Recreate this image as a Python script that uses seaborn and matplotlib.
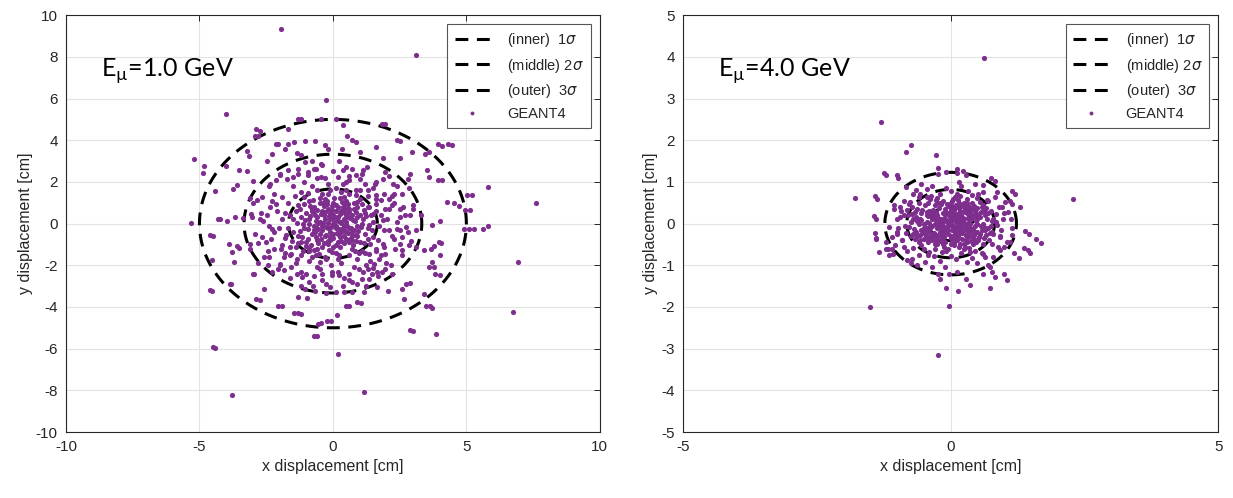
import numpy as np
import pandas as pd
import matplotlib
matplotlib.use('Agg')
import matplotlib.pyplot as plt
import seaborn as sns
from matplotlib.lines import Line2D

# =========== DATA ====================================
# sigma radii of the dashed ellipses, per energy [cm]
sigma_1gev = [1.665, 3.33, 5.0]
sigma_4gev = [0.41, 0.82, 1.23]
ring_labels = ['(inner)  1$\\sigma$', '(middle) 2$\\sigma$', '(outer)  3$\\sigma$']

# GEANT4 hits, 1.0 GeV (x, y) [cm]
pts_1gev = [
    # outliers / outer ring
    (-1.94, 9.36), (3.13, 8.09), (-0.27, 5.94), (-3.99, 5.25), (-5.19, 3.12), (-4.84, 2.75), (-4.85, 2.42),
    (-5.30, 0.03), (-4.22, 0.21), (-4.40, 1.56), (-4.49, -0.59), (-4.54, -1.77), (-4.54, -3.22), (-4.40, -5.97),
    (-3.79, -8.20), (1.16, -8.09), (0.19, -6.26), (-0.60, -5.37), (3.01, -5.13), (3.85, -5.30), (6.76, -4.22),
    (6.94, -1.83), (7.61, 0.99), (5.81, 1.75), (5.22, 1.35), (5.09, -0.24), (5.12, 0.64), (5.64, -0.24),
    (5.81, -0.13), (4.55, 0.99), (4.46, 3.77), (4.07, 3.74), (3.61, 3.42), (4.10, 2.07), (4.00, 0.11),
    (4.06, -0.91), (4.00, -1.51), (3.78, -2.07), (4.03, -2.47), (3.63, -3.95), (2.88, -2.87), (1.94, 4.78),
    (2.51, 3.98), (-1.18, 5.02), (-2.75, 4.46), (-2.81, 4.22), (-1.90, -3.95), (-1.31, -4.30), (-1.19, -4.33),
    (-0.07, -4.67), (-0.45, -4.78), (0.15, -4.38), (0.61, -3.95), (1.04, -3.82), (3.72, -4.06), (-2.72, -3.66),
    (-3.81, -2.90), (-2.94, -2.44), (-3.51, -1.16), (-3.69, -1.83), (-3.91, -0.96),
    # upper left
    (-1.32, 5.01), (-0.46, 5.01), (-1.67, 4.52), (-2.87, 4.52), (-2.9, 4.2), (-4.0, 2.77), (-3.2, 3.48),
    (-3.15, 3.25), (-3.52, 2.57), (-3.22, 2.5), (-3.75, 1.64), (-3.6, 1.85), (-2.98, 2.04), (-2.47, 3.01),
    (-2.3, 3.35), (-2.14, 3.8), (-2.05, 3.84), (-1.8, 3.6), (-1.67, 3.8), (-1.45, 3.9), (-1.36, 3.38),
    (-1.03, 3.98), (-0.67, 3.96), (-1.04, 2.97), (-0.77, 3.0), (-1.19, 3.27), (-0.46, 2.86), (-0.3, 3.75),
    (-0.2, 3.6), (-4.3, 0.22), (-3.95, 0.12), (-3.68, 0.33), (-3.36, 0.25), (-3.05, 0.48), (-2.73, 0.21),
    (-2.48, 0.4), (-3.12, 1.25), (-2.86, 1.12), (-2.67, 1.28), (-2.37, 0.8), (-2.12, 0.96), (-2.37, 1.92),
    (-2.12, 2.08), (-2.0, 2.32), (-1.69, 2.56), (-1.5, 2.24), (-1.3, 2.64), (-0.93, 2.48), (-0.62, 2.64),
    (-0.43, 2.24),
    # upper right
    (1.85, 4.8), (2.41, 4.0), (3.93, 3.8), (4.33, 3.81), (0.38, 4.72), (0.1, 5.0), (0.53, 4.2), (0.7, 4.0),
    (0.88, 3.9), (1.6, 3.68), (2.97, 3.44), (3.45, 3.36), (1.02, 3.43), (0.33, 3.6), (1.88, 3.13),
    (2.53, 3.17), (3.53, 2.57), (3.6, 2.24), (3.95, 2.08), (2.8, 2.16), (2.89, 2.4), (2.84, 1.73),
    (2.25, 1.89), (1.87, 2.16), (1.94, 2.48), (1.56, 1.92), (1.3, 1.6), (1.6, 1.37), (2.1, 1.2), (2.3, 1.43),
    (2.6, 1.43), (3.0, 0.72), (3.3, 0.4), (2.9, 0.4), (2.5, 0.72), (1.95, 0.72), (2.2, 0.88), (4.72, 0.84),
    (4.94, 0.64), (5.03, 1.36), (4.28, 1.04), (2.5, 0.32), (1.87, 0.16), (1.5, 0.48), (0.87, 1.6),
    (0.62, 2.08), (0.37, 2.56), (0.87, 2.32), (1.12, 2.56), (1.28, 2.72), (1.8, 1.12), (1.37, 0.8),
    # lower left
    (-4.59, -0.57), (-4.62, -3.2), (-4.49, -5.9), (-3.78, -1.37), (-3.58, -1.08), (-3.87, -2.89),
    (-2.87, -3.64), (-2.6, -3.13), (-2.99, -2.44), (-3.11, -0.97), (-2.8, -1.9), (-2.06, -3.96),
    (-1.44, -4.28), (-0.56, -4.8), (-0.69, -5.4), (-0.22, -4.66), (-2.65, -0.65), (-2.33, -0.73),
    (-2.4, -1.61), (-2.42, -1.97), (-2.06, -2.17), (-1.98, -1.93), (-1.83, -1.61), (-1.58, -1.45),
    (-1.33, -1.69), (-1.58, -2.09), (-1.36, -2.41), (-1.15, -2.57), (-1.21, -2.97), (-1.03, -3.13),
    (-1.31, -3.53), (-0.96, -3.57), (-0.73, -2.97), (-0.68, -3.21), (-0.27, -2.92), (-0.27, -3.33),
    (-0.58, -2.09), (-0.39, -2.41), (-0.08, -2.01), (-0.02, -2.49), (-1.96, -1.21), (-2.21, -1.21),
    (-0.9, -1.21), (-1.21, -0.89), (-2.27, -0.25), (-1.77, -0.57), (-0.51, -1.45), (-0.26, -1.69),
    # lower right
    (2.87, -5.12), (4.9, -0.25), (5.28, -0.25), (3.97, -0.89), (3.78, -1.08), (3.66, -1.24), (3.41, -1.29),
    (3.72, -1.85), (3.6, -2.09), (3.84, -2.41), (3.41, -3.37), (3.47, -3.93), (2.72, -2.89), (2.6, -3.13),
    (2.66, -3.61), (2.08, -3.24), (1.64, -3.05), (1.23, -2.97), (1.17, -3.29), (0.92, -3.77), (0.48, -3.93),
    (0.73, -3.29), (0.42, -3.29), (0.11, -3.29), (2.85, -1.05), (2.6, -1.29), (2.16, -2.01), (1.97, -2.17),
    (1.85, -2.33), (1.48, -2.41), (1.35, -2.65), (1.66, -2.33), (1.1, -2.65), (0.73, -2.81), (0.36, -2.97),
    (2.29, -0.73), (2.6, -0.65), (2.1, -0.33), (2.41, -0.25), (2.72, -0.17), (3.1, -0.33), (3.72, -0.09),
    (1.97, -1.45), (1.72, -1.69), (1.54, -1.93), (1.23, -2.01), (0.98, -2.17), (0.61, -2.41), (0.23, -2.49),
    (1.91, -1.13), (1.6, -1.21), (1.35, -1.45),
    # core
    (-0.1, 0.2), (0.3, 0.5), (-0.5, 0.1), (0.6, -0.2), (-0.3, -0.6), (0.2, -0.9), (0.9, 0.3), (-0.8, 0.6),
    (-1.1, -0.2), (1.2, -0.5), (0.0, 1.0), (0.4, 1.3), (-0.4, 1.4), (0.8, 1.0), (-0.9, 1.1), (1.3, 0.8),
    (-1.3, 0.9), (1.5, 0.1), (-1.5, -0.4), (0.1, -1.4), (-0.6, -1.2), (0.7, -1.2), (1.0, -0.9), (-1.0, -0.9),
    (-0.2, -0.2), (0.5, 0.1), (-0.7, -0.3), (0.2, 0.8), (-0.4, 0.6), (0.3, -0.4), (1.1, 0.0), (-1.2, 0.3),
    (0.0, -0.7), (0.6, 0.7), (-0.6, -0.8), (1.4, -1.0), (-1.4, -1.1), (0.9, -0.6), (-0.9, 0.0), (0.1, 1.7),
    (-0.2, 1.9), (0.5, 2.0), (-0.8, 1.8), (1.0, 1.6), (-1.2, 1.5), (1.6, 1.2), (-1.7, 1.0), (1.8, 0.4),
    (-1.9, 0.2), (1.9, -0.3), (-1.8, -0.7), (1.6, -1.3), (-1.6, -1.5), (0.9, -1.7), (-0.9, -1.8), (0.3, -1.9),
    (-0.3, -1.6), (0.0, 0.0), (0.4, -0.1), (-0.1, 0.5), (0.2, 0.3), (-0.4, -0.3), (0.7, 0.4), (-0.6, 0.3),
    (0.4, -0.6), (-0.2, -1.0), (0.8, -0.3), (-0.8, -0.5), (0.5, 1.1), (-0.5, 1.0), (1.2, 0.5), (-1.0, 0.5),
    (1.3, -0.2), (-1.3, -0.6), (0.2, -0.5), (-0.1, -0.4), (0.6, -0.9), (-0.4, -1.1), (0.1, 0.9), (-0.7, 0.8),
    (2.1, 0.7), (-2.1, 0.6), (2.2, -0.6), (-2.2, -0.4), (1.5, 1.7), (-1.5, 1.8), (1.4, -1.8), (-1.4, -1.9),
    (0.6, 2.3), (-0.6, 2.2), (0.2, -2.3), (-0.5, -2.2), (0.8, -2.1), (2.4, 0.1), (-2.4, -0.1), (1.9, 1.4),
    (-1.9, 1.3), (1.8, -1.5), (-1.8, -1.4), (0.0, 2.5), (-0.1, -0.8), (0.3, 0.1), (-0.3, 0.2), (0.1, -0.2),
    (0.5, 0.4), (-0.5, -0.5), (0.7, -0.6), (-0.2, 0.7), (0.9, 0.8), (-0.9, -1.3), (1.0, 1.2), (-1.1, 1.3),
    (1.1, -1.3), (0.4, 0.7), (-0.7, -0.1), (0.0, -1.1), (1.6, 0.6), (-1.6, 0.4), (1.7, -0.8), (-1.7, -0.2),
    (0.3, 1.5), (-0.3, 1.2), (0.6, -1.5), (-0.8, -1.6), (1.2, 1.9), (-1.1, 2.0), (1.3, -2.2), (-1.2, -2.3),
    (2.3, 1.0), (-2.3, 1.1), (2.5, -1.0), (-2.5, -0.9), (2.0, -1.9), (-2.0, -2.0), (0.4, -2.6), (-0.4, -2.7),
    (2.7, 0.4), (-2.7, 0.5), (0.5, 2.7), (-0.7, 2.6), (0.15, 0.25), (-0.25, -0.15), (0.35, -0.25),
    (-0.45, 0.45), (0.55, -0.45), (-0.05, 0.65), (0.75, 0.15), (-0.65, -0.65), (0.25, -0.65), (-0.35, 0.85),
    (1.05, -0.15), (-1.05, 0.15), (0.85, 0.55), (-0.85, 0.35), (0.45, 0.95), (-0.15, -1.25), (1.25, 0.35),
    (-1.25, -0.35), (0.65, -0.75), (-0.55, -0.95), (2.6, -1.5), (-2.6, -1.6), (2.8, -0.4), (-2.9, -0.5),
    (1.1, 2.4), (-1.3, 2.4), (2.4, 1.8), (-2.4, 1.8), (1.7, -2.5), (-1.6, -2.6), (3.0, 0.9), (-3.0, 1.0),
    (0.9, -2.9), (-0.9, -2.8), (2.1, 2.3), (-2.0, 2.4), (2.2, -2.4), (-2.3, -2.3), (3.1, -1.1), (-3.1, -1.2),
    (0.05, 0.1), (-0.15, 0.35), (0.3, 0.6), (-0.55, 0.05), (0.45, -0.35), (-0.25, -0.55), (0.15, -0.45),
    (0.65, 0.25), (-0.75, 0.55), (0.95, -0.35), (-0.95, -0.25), (0.35, 1.05), (-0.35, -0.95), (0.55, 0.75),
    (-0.45, -0.75), (0.85, -0.85), (-0.85, 0.85), (1.15, 0.65), (-1.15, -0.65), (0.05, 1.25), (-0.05, -1.35),
    (1.35, -0.05), (-1.35, 0.05), (0.75, -1.05), (-0.75, 1.15), (0.25, 0.45), (-0.6, 0.65), (0.6, 0.55),
    (-0.2, 0.05), (0.1, -0.1),
    (0.12, 0.62), (-0.32, 0.42), (0.48, -0.72), (-0.68, -0.42), (0.82, 0.12), (-0.88, 0.22), (0.28, -1.12),
    (-0.22, 1.08), (1.08, 0.92), (-1.02, -1.08), (1.42, 0.42), (-1.38, 0.62), (0.62, 1.42), (-0.58, 1.62),
    (1.22, -1.42), (-1.18, -1.52), (1.72, -0.12), (-1.78, 0.52), (0.18, -1.68), (-0.48, -1.82), (2.02, 0.22),
    (-2.02, -0.22), (0.38, 1.88), (-0.28, 2.18), (1.88, -0.98), (-1.92, -1.02), (1.32, 1.32), (-1.42, 1.32),
    (0.98, -1.42), (-1.12, -1.32), (0.02, 0.42), (0.42, 0.22), (-0.42, -0.12), (0.22, -0.28), (-0.12, -0.62),
    (0.72, -0.42), (-0.62, 0.12), (0.58, 0.92), (-0.38, 0.98), (0.92, -0.12), (-0.92, -0.72), (1.02, 0.42),
    (-1.22, 0.72), (0.32, -0.82), (-0.82, -1.02), (0.78, 0.72), (-0.18, 1.42), (0.12, -1.02), (1.52, -0.62),
    (-1.52, -0.82), (2.22, 1.32), (-2.22, 1.42), (2.32, -1.22), (-2.42, -1.32), (1.02, 2.12), (-0.92, 2.32),
    (1.12, -2.32), (-1.02, -2.42), (0.18, 2.22), (-0.02, -2.32), (2.62, 0.82), (-2.62, 0.12), (2.52, -0.32),
    (-2.82, -0.92), (0.72, 2.62), (-0.42, 2.82), (0.62, -2.72), (-0.72, -2.52), (1.62, 2.02), (-1.72, 2.12),
    (1.52, -2.12), (-1.82, -2.22), (2.92, -0.82), (-3.02, 0.32), (0.22, 3.02), (-0.12, -3.02), (-0.05, 0.85),
    (0.45, 0.55), (-0.55, -0.25), (0.85, -0.55),
    (0.08, 0.32), (-0.28, 0.58), (0.52, -0.12), (-0.62, -0.18), (0.38, 0.82), (-0.18, -0.82), (0.72, -0.78),
    (-0.78, 0.72), (1.12, 0.22), (-1.12, -0.02), (0.28, 1.22), (-0.48, 1.22), (0.92, 1.02), (-0.72, -1.28),
    (1.32, -0.72), (-1.32, -0.92), (0.02, -0.52), (0.58, 0.32), (-0.38, 0.02), (0.18, 0.12), (-0.08, -0.18),
    (0.68, -0.22), (-0.68, 0.42), (0.42, -0.92), (-0.22, 0.92), (1.18, -0.92), (-1.08, 0.92), (0.88, 1.38),
    (-0.92, 1.48), (1.48, -0.32), (-1.48, 0.22), (0.22, -1.52), (-0.62, -1.52), (1.62, 0.92), (-1.62, -1.12),
    (0.48, 1.62), (-0.12, 1.62), (0.82, -1.32), (0.32, 0.02), (-0.02, 0.28),
]

# GEANT4 hits, 4.0 GeV (x, y) [cm]
pts_4gev = [
    # outliers
    (0.62, 3.98), (-1.30, 2.43), (-0.75, 1.89), (-0.84, 1.71), (-0.27, 1.65), (-1.24, 1.22), (-1.0, 1.16),
    (-1.78, 0.61), (-1.42, 0.67), (2.29, 0.60), (1.60, -0.36), (1.39, -0.18), (1.37, -0.58), (1.19, -0.71),
    (0.99, -1.22), (0.78, -1.16), (0.73, -1.55), (0.29, -1.34), (0.14, -1.61), (-0.09, -1.55), (-0.23, -1.22),
    (-0.04, -1.97), (-1.50, -2.0), (-0.24, -3.15), (-1.40, -0.37), (-1.44, 0.19), (-1.41, -0.23),
    (-1.21, -0.62), (-1.17, -0.60), (1.15, 0.48), (1.15, 0.78), (0.76, 1.09), (0.12, 1.30), (0.24, 1.26),
    (-0.24, 1.33),
    # left half ring
    (-1.21, 1.17), (-0.98, 1.10), (-1.38, 0.6), (-1.39, 0.1), (-1.39, -0.34), (-1.34, -0.69), (-1.01, 0.12),
    (-1.16, -0.08), (-1.05, 0.44), (-0.94, 0.4), (-0.83, 0.88), (-0.7, 0.72), (-0.6, 0.64), (-0.76, 0.52),
    (-0.82, 0.32), (-0.88, 0.2), (-1.0, -0.2), (-0.91, -0.4), (-0.88, -0.56), (-1.07, -0.72), (-1.15, -0.76),
    (-1.2, -0.44), (-1.1, -0.32), (-1.04, -0.52), (-0.82, -0.88), (-0.73, -0.84), (-0.63, -1.0),
    (-0.48, -0.92), (-0.42, -0.76), (-0.35, -1.04), (-0.2, -1.32), (-0.04, -1.2), (-0.23, 1.2), (-0.08, 1.24),
    # right half ring
    (1.69, -0.46), (0.12, 1.22), (0.29, 1.16), (0.83, 1.03), (1.21, 0.72), (1.3, 0.4), (1.13, 0.12),
    (1.47, -0.25), (1.44, -0.64), (1.49, -0.7), (1.27, -0.82), (1.05, -1.35), (0.83, -1.29), (0.36, -1.47),
    (0.12, -1.15), (0.61, -1.2), (0.74, -1.04), (0.99, -0.56), (1.1, -0.44), (0.93, -0.32), (1.14, -0.28),
    (1.08, 0.28), (1.02, 0.52), (0.96, 0.4), (0.86, 0.76), (0.61, 0.92), (0.52, 0.72), (0.68, 0.56),
    (0.8, 0.12), (0.86, -0.04), (0.77, -0.2), (0.8, -0.8), (0.61, -0.72), (0.93, -0.64),
    # core
    (0.0, 0.0), (0.1, 0.05), (-0.1, 0.1), (0.05, -0.1), (-0.05, -0.05), (0.15, 0.15), (-0.15, -0.15),
    (0.2, -0.05), (-0.2, 0.05), (0.1, -0.2), (-0.1, 0.2), (0.25, 0.1), (-0.25, -0.1), (0.05, 0.25),
    (-0.05, -0.25), (0.3, -0.15), (-0.3, 0.15), (0.18, 0.3), (-0.18, -0.3), (0.35, 0.05), (-0.35, -0.05),
    (0.0, 0.35), (0.0, -0.35), (0.28, -0.28), (-0.28, 0.28), (0.4, 0.2), (-0.4, -0.2), (0.22, -0.38),
    (-0.22, 0.38), (0.45, -0.05), (-0.45, 0.05), (0.1, 0.45), (-0.1, -0.45), (0.38, 0.32), (-0.38, -0.32),
    (0.5, 0.1), (-0.5, -0.1), (0.3, -0.45), (-0.3, 0.45), (0.55, -0.25), (-0.55, 0.25), (0.15, -0.55),
    (-0.15, 0.55), (0.5, 0.38), (-0.5, -0.38), (0.6, 0.0), (-0.6, 0.0), (0.42, -0.5), (-0.42, 0.5),
    (0.65, 0.2), (-0.65, -0.2), (0.05, 0.6), (-0.05, -0.6), (0.62, -0.35), (-0.62, 0.35), (0.3, 0.6),
    (-0.3, -0.6), (0.7, -0.1), (-0.7, 0.1), (0.55, 0.52), (-0.55, -0.52), (0.2, -0.7), (-0.2, 0.7),
    (0.75, 0.3), (-0.75, -0.3), (0.45, -0.65), (-0.45, 0.65), (0.8, -0.25), (-0.8, 0.2), (0.12, 0.72),
    (0.08, 0.12), (-0.12, -0.08), (0.18, -0.12), (-0.18, 0.12), (0.12, 0.22), (-0.08, -0.18), (0.25, 0.02),
    (-0.25, 0.2), (0.32, 0.22), (-0.12, -0.32), (0.02, -0.15), (-0.02, 0.15), (0.22, -0.22), (-0.32, -0.22),
    (0.42, -0.12), (-0.42, 0.18), (0.35, 0.4), (-0.05, 0.42), (0.12, -0.4), (-0.35, -0.4), (0.48, 0.25),
    (-0.48, -0.25), (0.58, -0.15), (-0.58, 0.12), (0.25, 0.5), (-0.25, -0.5), (0.35, -0.58), (-0.38, 0.58),
    (0.68, 0.12), (-0.68, -0.12), (0.6, 0.45), (-0.6, -0.45), (0.72, -0.4), (-0.72, 0.4), (0.4, 0.68),
    (-0.4, -0.68), (0.0, 0.78), (0.0, -0.78), (0.85, 0.05), (-0.85, -0.05), (0.9, 0.4), (-0.9, -0.4),
    (0.88, -0.55), (-0.88, 0.55), (0.6, 0.75), (-0.6, -0.75), (0.65, -0.8), (-0.65, 0.8), (0.2, 0.9),
    (-0.2, -0.9), (0.3, -0.92), (-0.35, 0.9), (0.95, -0.15), (-0.95, 0.15), (1.0, 0.25), (-1.0, -0.25),
    (0.82, 0.65), (-0.82, -0.65), (0.5, -0.95), (-0.55, 0.95), (1.05, -0.45), (-1.05, 0.35), (0.15, 1.0),
    (0.45, 0.95), (-0.1, -1.05), (0.7, -1.0), (-0.75, -0.95), (1.1, 0.55), (-1.1, -0.6), (1.15, -0.1),
    (0.03, 0.08), (-0.07, 0.03), (0.14, -0.03), (-0.16, -0.02), (0.06, 0.18), (0.2, 0.2), (-0.2, -0.2),
    (0.27, -0.08), (-0.27, 0.08), (0.09, -0.28), (-0.09, 0.28), (0.38, 0.1), (-0.38, -0.1), (0.16, 0.37),
    (-0.16, -0.37), (0.44, -0.28), (-0.44, 0.28), (0.28, 0.44), (-0.28, -0.44), (0.52, -0.4), (0.04, -0.05),
    (-0.04, 0.06), (0.11, 0.11), (-0.11, -0.11), (0.2, 0.08), (-0.2, -0.08), (0.08, -0.22), (-0.08, 0.22),
    (0.3, 0.0), (-0.3, 0.0), (0.0, 0.3), (0.0, -0.3), (0.33, -0.33), (-0.33, 0.33), (0.33, 0.33),
    (-0.33, -0.33), (0.5, 0.0), (-0.5, 0.0), (0.0, 0.5), (0.0, -0.5),
    (0.07, 0.32), (0.37, -0.2), (-0.37, 0.22), (0.17, -0.17), (-0.27, -0.27), (0.27, 0.27), (0.47, 0.07),
    (-0.47, -0.07), (0.07, -0.47), (-0.07, 0.47), (0.57, 0.27), (-0.57, -0.27), (0.27, -0.57), (-0.27, 0.57),
    (0.63, -0.07), (-0.63, 0.07), (0.43, 0.43), (-0.43, -0.43), (0.53, -0.33), (-0.53, 0.33), (0.13, 0.57),
    (-0.13, -0.57), (0.67, 0.37), (-0.67, -0.37), (0.73, -0.23), (-0.73, 0.23), (0.37, -0.67), (-0.37, 0.67),
    (0.17, 0.67), (-0.17, -0.67), (0.77, 0.07), (-0.77, -0.07), (0.23, 0.13), (-0.23, -0.03), (0.13, -0.33),
    (-0.03, 0.23), (0.33, 0.13), (-0.13, -0.23), (0.43, -0.37), (-0.33, 0.23), (0.1, -0.08), (-0.14, 0.06),
    (0.16, 0.04), (-0.06, -0.14), (0.24, -0.18), (-0.24, 0.14), (0.08, 0.38), (-0.18, -0.42), (0.36, -0.02),
    (-0.4, 0.02), (0.46, 0.3), (-0.46, -0.32), (0.56, -0.06), (-0.56, 0.08), (0.26, 0.38), (-0.26, -0.36),
    (0.06, -0.52), (0.02, 0.54), (0.66, -0.28), (-0.66, 0.28), (0.5, 0.62), (-0.5, -0.62), (0.78, -0.5),
    (-0.78, 0.48), (0.84, 0.22), (-0.84, -0.22), (0.32, 0.78), (-0.32, -0.78), (0.58, -0.7), (-0.58, 0.72),
    (0.92, -0.3), (-0.92, 0.3), (0.7, 0.55), (-0.7, -0.58), (0.1, -0.85), (-0.08, 0.86), (0.4, -0.82),
    (-0.45, 0.82), (0.98, 0.1), (-0.98, -0.1), (0.38, -0.42), (-0.02, -0.02), (0.19, 0.09), (-0.09, -0.19),
    (0.29, -0.39), (-0.19, 0.49), (0.49, -0.19), (-0.39, -0.29), (0.09, 0.19), (0.39, 0.49),
    (0.05, 0.4), (0.15, -0.25), (-0.15, 0.25), (0.25, 0.3), (-0.25, -0.3), (0.35, -0.1), (-0.35, 0.1),
    (0.45, 0.15), (-0.45, -0.15), (0.1, -0.35), (-0.1, 0.35), (0.2, 0.42), (-0.2, -0.42), (0.4, -0.3),
    (-0.4, 0.3), (0.55, 0.15), (-0.55, -0.15), (0.3, 0.5), (-0.3, -0.5), (0.48, -0.45), (-0.48, 0.45),
    (0.62, 0.3), (-0.62, -0.3), (0.6, -0.5), (-0.6, 0.5), (0.15, 0.5), (-0.15, -0.5), (0.7, 0.25),
    (-0.7, -0.25), (0.25, -0.5), (-0.25, 0.5), (0.05, 0.15), (-0.05, -0.15), (0.22, 0.02), (-0.22, -0.02),
    (0.12, -0.12), (-0.12, 0.12), (0.32, -0.22), (-0.32, 0.22), (0.42, 0.38), (-0.42, -0.38), (0.52, 0.2),
    (-0.52, -0.2), (0.18, -0.48), (-0.18, 0.48), (0.65, -0.15), (-0.65, 0.15), (0.08, 0.65), (-0.08, -0.65),
    (0.35, 0.25), (-0.35, -0.25), (0.45, -0.2), (-0.45, 0.2), (0.58, 0.4), (-0.58, -0.4), (0.25, -0.62),
    (-0.25, 0.62), (0.75, -0.05), (-0.75, 0.05), (0.02, -0.4),
]

energies = ['1.0', '4.0']
xlims = [(-10, 10), (-5, 5)]
xticks = [[-10, -5, 0, 5, 10], [-5, 0, 5]]
yticks = [list(range(-10, 11, 2)), list(range(-5, 6))]
title_pos = [(-8.7, 7.3), (-4.35, 3.66)]

# =========== PLOT =============
sns.set_theme(style='white')
plt.rcParams['font.family'] = ['Liberation Sans', 'DejaVu Sans']
plt.rcParams['axes.unicode_minus'] = False

purple = '#7e2f8e'
txt_col = '#262626'

fig = plt.figure(figsize=(12.33, 4.98), dpi=100)
ax_pos = [[0.0535, 0.1325, 0.433, 0.837], [0.554, 0.1325, 0.434, 0.837]]

for k, (pts, sig) in enumerate([(pts_1gev, sigma_1gev), (pts_4gev, sigma_4gev)]):
    ax = fig.add_axes(ax_pos[k])
    df = pd.DataFrame(pts, columns=['x', 'y'])

    # dashed sigma ellipses (drawn under the points, like the original)
    theta = np.linspace(0, 2 * np.pi, 300)
    handles = []
    for r, lab in zip(sig, ring_labels):
        ln, = ax.plot(r * np.cos(theta), r * np.sin(theta), color='black',
                      lw=2.2, dashes=(4.2, 2.8), zorder=2, label=lab)
        handles.append(ln)

    sns.scatterplot(data=df, x='x', y='y', ax=ax, color=purple, s=14,
                    linewidth=0, zorder=3, legend=False)
    handles.append(Line2D([], [], ls='none', marker='o', ms=2.8, mec='none',
                          color=purple, label='GEANT4'))

    ax.set_xlim(*xlims[k])
    ax.set_ylim(*xlims[k])
    ax.set_xticks(xticks[k])
    ax.set_yticks(yticks[k])
    ax.grid(True, color='#e3e3e3', lw=0.8, zorder=0)
    ax.set_axisbelow(True)
    ax.tick_params(direction='in', length=4, width=0.7, top=True, right=True,
                   labelsize=11, colors=txt_col, pad=6)
    for sp in ax.spines.values():
        sp.set_color(txt_col)
        sp.set_linewidth(0.8)
    ax.set_xlabel('x displacement [cm]', fontsize=11.5, color=txt_col, labelpad=3)
    ax.set_ylabel('y displacement [cm]', fontsize=11.5, color=txt_col, labelpad=2)

    leg = ax.legend(handles=handles, loc='upper right', fontsize=10.5,
                    handlelength=2.4, handletextpad=1.2, labelspacing=0.5,
                    borderpad=0.5, borderaxespad=0.6, fancybox=False,
                    framealpha=1, edgecolor='#555555')
    leg.get_frame().set_linewidth(0.8)
    leg.set_zorder(5)

    tx, ty = title_pos[k]
    ax.text(tx, ty, 'E$_\\mathregular{µ}$=' + energies[k] + ' GeV', fontsize=18,
            family=['Lato', 'DejaVu Sans'], va='center', ha='left', color='black')

fig.savefig('out.png', dpi=100)
